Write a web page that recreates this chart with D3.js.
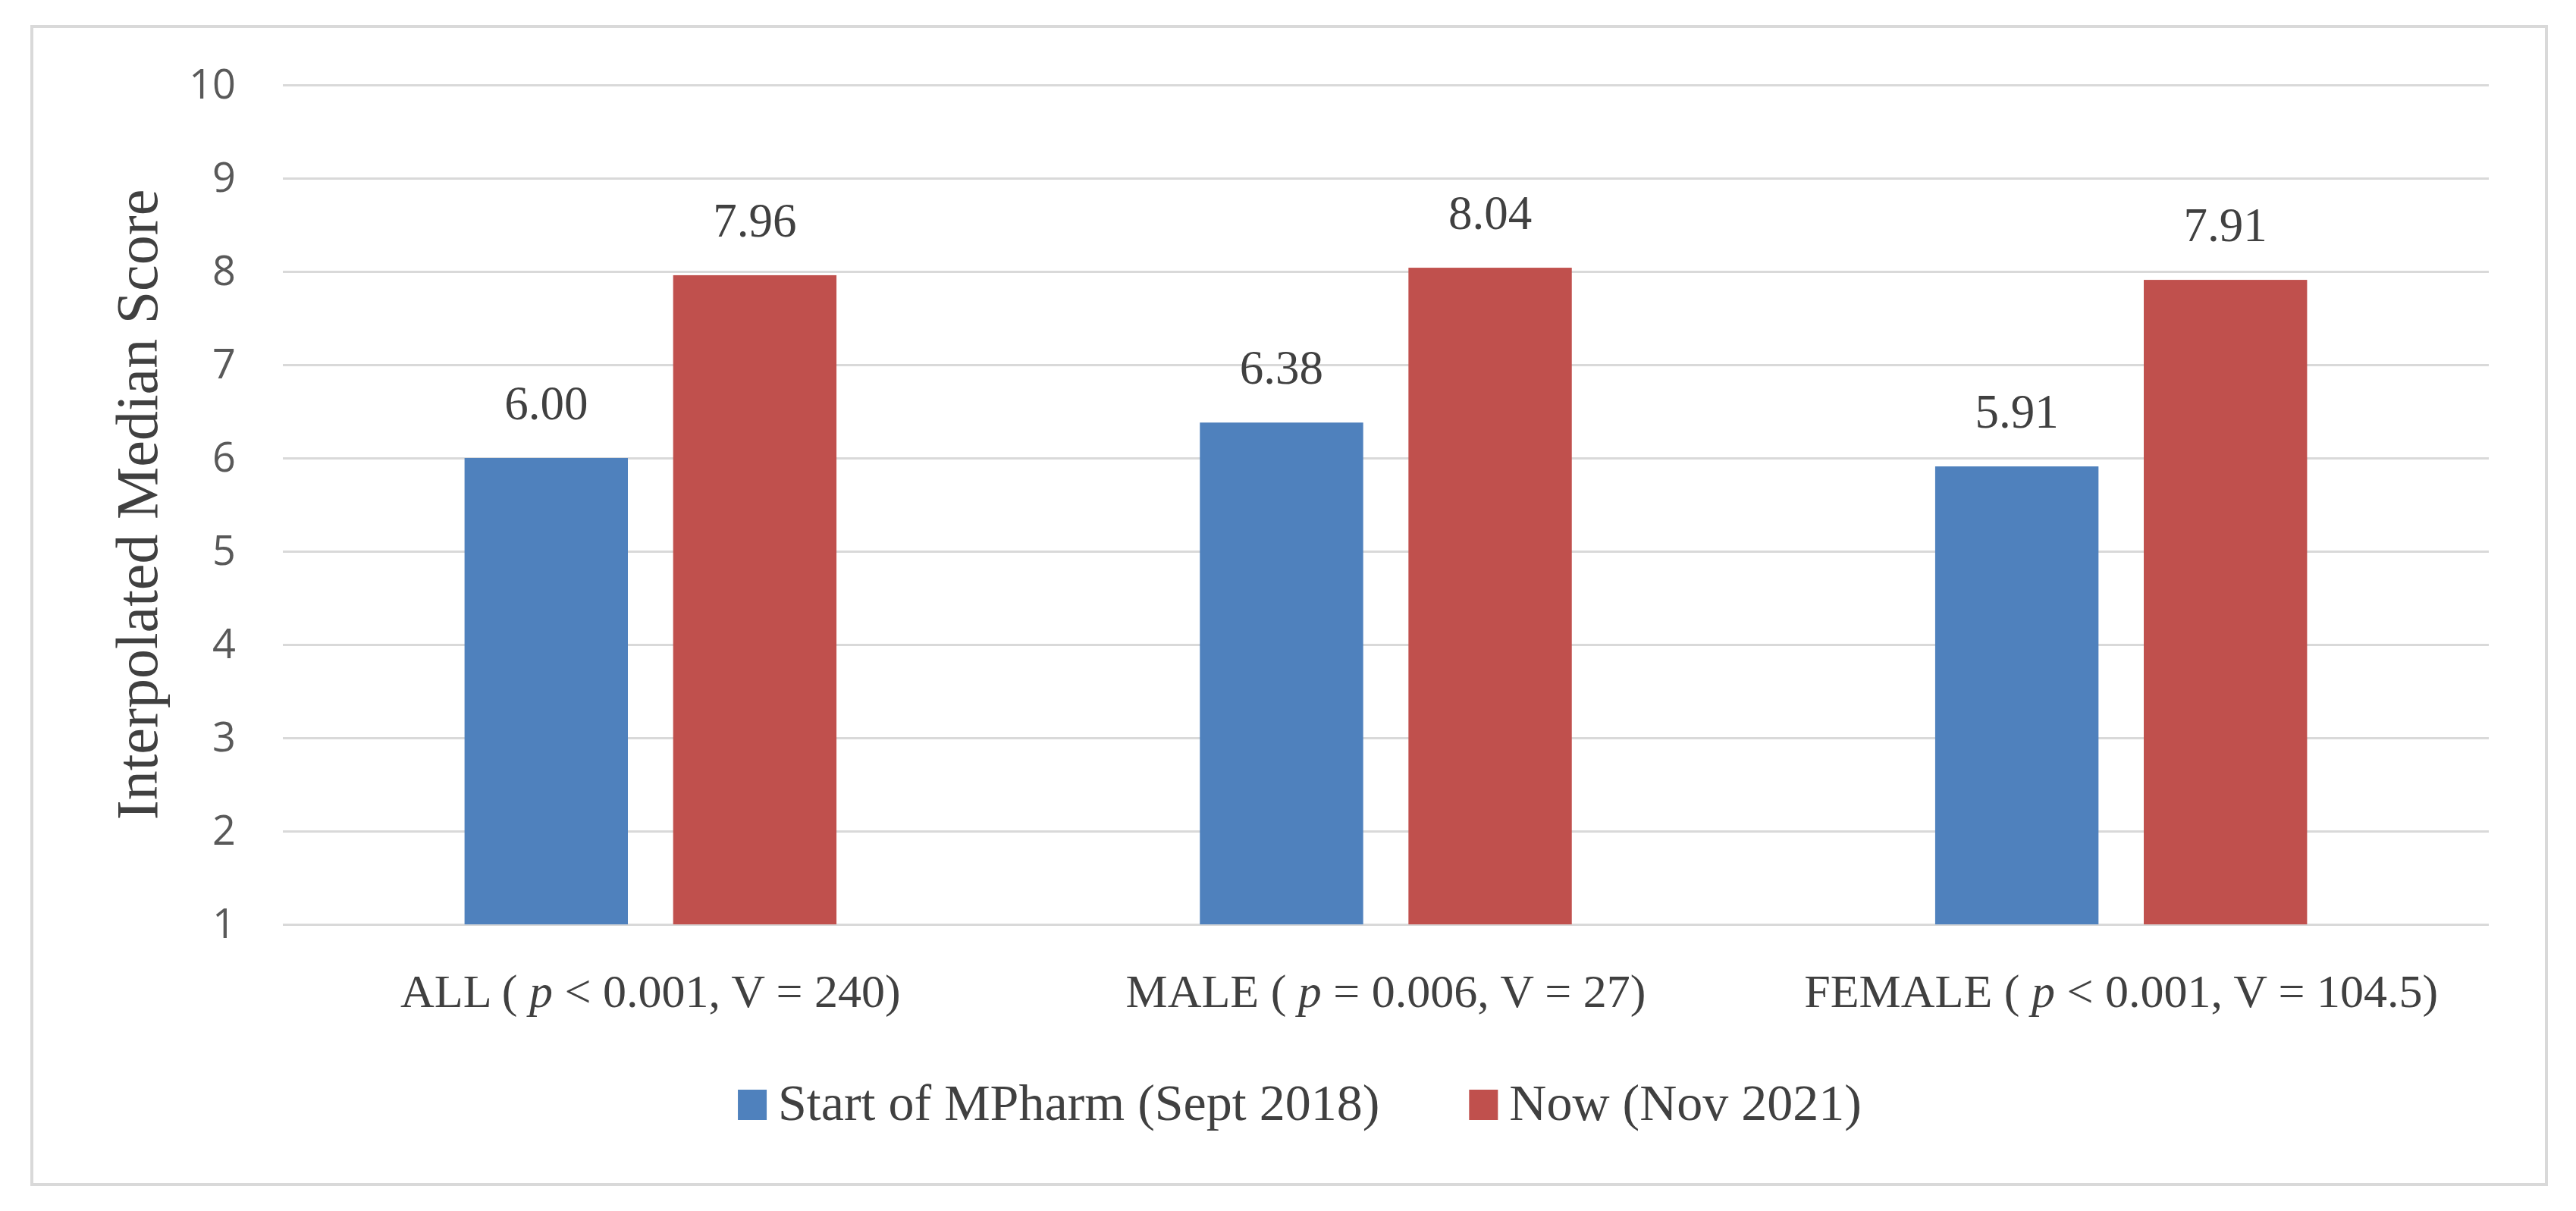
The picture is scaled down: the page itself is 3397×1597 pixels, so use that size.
<!DOCTYPE html>
<html>
<head>
<meta charset="utf-8">
<script src="https://cdn.jsdelivr.net/npm/d3@7"></script>
<style>
  body { margin: 0; background: #fff; }
  svg { display: block; }
</style>
</head>
<body>
<div id="chart"></div>
<script>
// Data
const groups = ["ALL", "MALE", "FEMALE"];
const groupStats = ["< 0.001, V = 240)", "= 0.006, V = 27)", "< 0.001, V = 104.5)"];
const seriesNames = ["Start of MPharm (Sept 2018)", "Now (Nov 2021)"];
const startValues = [6.00, 6.38, 5.91];
const nowValues = [7.96, 8.04, 7.91];
const yTicks = [1, 2, 3, 4, 5, 6, 7, 8, 9, 10];
const yTitle = "Interpolated Median Score";

const colors = ["#4f81bd", "#c0504d"];
const serif = "'Palatino Linotype', 'Book Antiqua', Palatino, 'Liberation Serif', serif";

const width = 3397, height = 1597;
const margin = {top: 112, right: 115, bottom: 378, left: 373};
const plotW = width - margin.left - margin.right,
    plotH = height - margin.top - margin.bottom;

const svg = d3.select("#chart")
    .append("svg")
    .attr("width", width)
    .attr("height", height);

// chart border
const box = {x: 42, y: 35, w: 3316, h: 1527};
svg.append("rect")
    .attr("x", box.x)
    .attr("y", box.y)
    .attr("width", box.w)
    .attr("height", box.h)
    .attr("fill", "#fff")
    .attr("stroke", "#d9d9d9")
    .attr("stroke-width", 4);

const g = svg.append("g")
    .attr("transform", `translate(${margin.left},${margin.top})`);

const x0 = d3.scaleBand()
    .domain(groups)
    .range([0, plotW]);

const x1 = d3.scaleBand()
    .domain(seriesNames)
    .range([0, x0.bandwidth()])
    .paddingInner(0.217)
    .paddingOuter(0.871);

const y = d3.scaleLinear()
    .domain([1, 10])
    .range([plotH, 0]);

// gridlines + tick labels
const yAxis = d3.axisLeft(y)
    .tickValues(yTicks)
    .tickSize(-plotW)
    .tickPadding(62)
    .tickFormat(d3.format("d"));

g.append("g")
    .call(yAxis)
    .call(ax => ax.select(".domain").remove())
    .call(ax => ax.selectAll("line")
        .attr("stroke", "#d9d9d9")
        .attr("stroke-width", 3))
    .call(ax => ax.selectAll("text")
        .attr("fill", "#595959")
        .style("font-family", "'Open Sans', sans-serif")
        .style("font-size", "54px"));

// y axis title
svg.append("text")
    .attr("transform", `translate(207,${margin.top + plotH / 2}) rotate(-90)`)
    .attr("text-anchor", "middle")
    .attr("fill", "#404040")
    .style("font-family", serif)
    .style("font-size", "78px")
    .text(yTitle);

const rows = groups.map((grp, i) => ({
    group: grp,
    values: [startValues[i], nowValues[i]]
}));

const groupG = g.selectAll(".group")
    .data(rows)
    .enter()
    .append("g")
    .attr("class", "group")
    .attr("transform", d => `translate(${x0(d.group)},0)`);

const cells = groupG.selectAll(".cell")
    .data(d => d.values.map((v, j) => ({series: seriesNames[j], value: v, idx: j})))
    .enter();

cells.append("rect")
    .attr("x", d => x1(d.series))
    .attr("y", d => y(d.value))
    .attr("width", x1.bandwidth())
    .attr("height", d => y(1) - y(d.value))
    .attr("fill", d => colors[d.idx]);

cells.append("text")
    .attr("x", d => x1(d.series) + x1.bandwidth() / 2)
    .attr("y", d => y(d.value) - 51)
    .attr("text-anchor", "middle")
    .attr("fill", "#404040")
    .style("font-family", serif)
    .style("font-size", "63px")
    .text(d => d.value.toFixed(2));

// category labels with italic p
const xLabels = g.append("g")
    .selectAll("text")
    .data(groups)
    .enter()
    .append("text")
    .attr("x", d => x0(d) + x0.bandwidth() / 2)
    .attr("y", plotH + 109)
    .attr("text-anchor", "middle")
    .attr("fill", "#404040")
    .style("font-family", serif)
    .style("font-size", "62px");

xLabels.append("tspan").text(d => d + " ( ");
xLabels.append("tspan").style("font-style", "italic").text("p");
xLabels.append("tspan").text((d, i) => " " + groupStats[i]);

// legend
const legend = svg.append("g")
    .attr("class", "legend");

const legendItems = legend.selectAll("g")
    .data(seriesNames)
    .enter()
    .append("g");

legendItems.append("rect")
    .attr("width", 38)
    .attr("height", 40)
    .attr("y", -40)
    .attr("fill", (d, i) => colors[i]);

legendItems.append("text")
    .attr("x", 53)
    .attr("y", 0)
    .attr("fill", "#404040")
    .style("font-family", serif)
    .style("font-size", "68px")
    .text(d => d);

// lay out legend items side by side, centred in the chart box
let offset = 0;
const gapBetween = 118;
const positions = [];
legendItems.each(function() {
    const w = this.getBBox().width;
    positions.push(offset);
    offset += w + gapBetween;
});
const totalW = offset - gapBetween;
const startX = box.x + box.w / 2 + 14 - totalW / 2;
legendItems.attr("transform", (d, i) => `translate(${startX + positions[i]},1477)`);
</script>
</body>
</html>
